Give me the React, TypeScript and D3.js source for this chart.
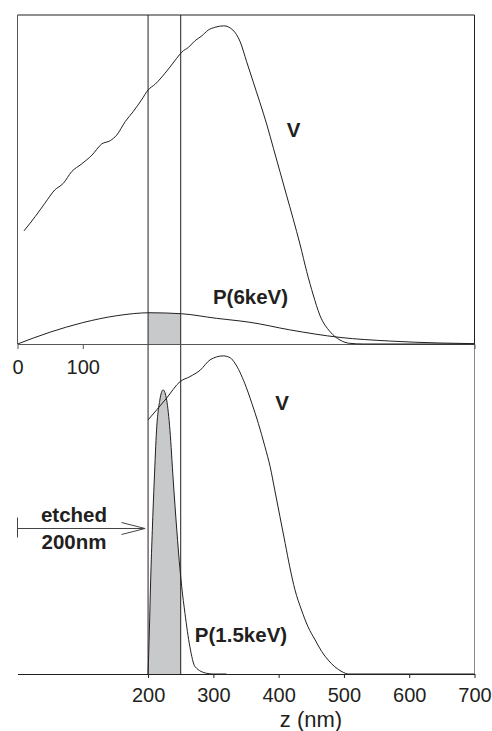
import React, { useEffect, useRef } from 'react';
import * as d3 from 'd3';

const WIDTH = 492;
const HEIGHT = 731;

// [z (nm), relative value]
const V_TOP: [number, number][] = [
  [10, 0.344], [27, 0.387], [42, 0.428], [57, 0.468], [70, 0.488], [83, 0.524], [98, 0.547],
  [114, 0.574], [129, 0.608], [142, 0.618], [152, 0.635], [165, 0.676], [177, 0.706],
  [190, 0.742], [200, 0.772], [211, 0.79], [226, 0.823], [241, 0.861], [252, 0.888],
  [262, 0.902], [272, 0.922], [282, 0.936], [292, 0.954], [303, 0.963], [316, 0.967],
  [330, 0.954], [341, 0.919], [351, 0.858], [361, 0.797], [371, 0.736], [382, 0.666],
  [392, 0.595], [402, 0.524], [412, 0.453], [422, 0.382], [433, 0.301], [443, 0.22],
  [453, 0.149], [463, 0.088], [479, 0.037], [494, 0.012], [509, 0.002], [530, 0], [700, 0]
];

const P_6KEV: [number, number][] = [
  [0, 0], [50, 0.036], [100, 0.065], [152, 0.086], [203, 0.095], [251, 0.092],
  [305, 0.078], [341, 0.07], [356, 0.066], [417, 0.043], [494, 0.02], [570, 0.009],
  [647, 0.003], [700, 0.001]
];

const V_BOTTOM: [number, number][] = [
  [200, 0.77], [228, 0.835], [249, 0.886], [264, 0.901], [280, 0.921], [295, 0.952],
  [315, 0.964], [326, 0.958], [333, 0.942], [348, 0.881], [359, 0.82], [369, 0.759],
  [379, 0.689], [387, 0.628], [394, 0.558], [402, 0.477], [410, 0.396], [417, 0.325],
  [425, 0.255], [435, 0.194], [445, 0.143], [456, 0.103], [466, 0.068], [476, 0.042],
  [486, 0.022], [497, 0.007], [507, 0], [700, 0]
];

const P_1_5KEV: [number, number][] = [
  [200, 0], [202, 0.133], [204, 0.285], [206.5, 0.436], [209.5, 0.588], [213, 0.739],
  [218, 0.83], [223, 0.861], [228.5, 0.83], [233.5, 0.739], [238.5, 0.588], [244, 0.436],
  [249, 0.315], [251.5, 0.265], [256.5, 0.184], [264, 0.083], [272, 0.022], [290, 0.002],
  [300, 0], [320, 0]
];

const TOP_TICKS = [0, 100];
const BOTTOM_TICKS = [200, 300, 400, 500, 600, 700];
const ETCH_RANGE: [number, number] = [200, 250];

const INK = '#231f20';
const FILL = '#c8c9cb';
const FONT = '"Liberation Sans", Arial, sans-serif';

const App: React.FC = () => {
  const svgRef = useRef<SVGSVGElement>(null);

  useEffect(() => {
    if (!svgRef.current) return;
    const svg = d3.select(svgRef.current);
    svg.selectAll('*').remove();

    // Scales
    const x = d3.scaleLinear().domain([0, 700]).range([17.5, 474.5]);
    const yTop = d3.scaleLinear().domain([0, 1]).range([344, 15]);
    const yBot = d3.scaleLinear().domain([0, 1]).range([674, 344]);

    // Clip for the shaded etched slice
    svg.append('defs')
      .append('clipPath')
      .attr('id', 'etch-clip')
      .append('rect')
      .attr('x', x(ETCH_RANGE[0]))
      .attr('y', 0)
      .attr('width', x(ETCH_RANGE[1]) - x(ETCH_RANGE[0]))
      .attr('height', HEIGHT);

    const curve = d3.curveMonotoneX;
    const lineTop = d3.line<[number, number]>()
      .x(d => x(d[0])).y(d => yTop(d[1])).curve(curve);
    const lineBot = d3.line<[number, number]>()
      .x(d => x(d[0])).y(d => yBot(d[1])).curve(curve);
    const areaTop = d3.area<[number, number]>()
      .x(d => x(d[0])).y0(yTop(0)).y1(d => yTop(d[1])).curve(curve);
    const areaBot = d3.area<[number, number]>()
      .x(d => x(d[0])).y0(yBot(0)).y1(d => yBot(d[1])).curve(curve);

    // Shaded fills
    svg.append('path')
      .datum(P_6KEV)
      .attr('d', areaTop)
      .attr('fill', FILL)
      .attr('clip-path', 'url(#etch-clip)');
    svg.append('path')
      .datum(P_1_5KEV)
      .attr('d', areaBot)
      .attr('fill', FILL)
      .attr('clip-path', 'url(#etch-clip)');

    // Frames
    const seg = (x1: number, y1: number, x2: number, y2: number, color = INK) =>
      svg.append('line')
        .attr('x1', x1).attr('y1', y1).attr('x2', x2).attr('y2', y2)
        .attr('stroke', color).attr('stroke-width', 1);

    seg(x(0), yTop(1), x(700), yTop(1));
    seg(x(0), yTop(1), x(0), yTop(0), '#555');
    seg(x(700), yTop(1), x(700), yTop(0));
    seg(x(700), yBot(1), x(700), yBot(0), '#8a8a8a');
    ETCH_RANGE.forEach(z => seg(x(z), yTop(1), x(z), yBot(0)));

    // Top axis
    const topAxis = svg.append('g')
      .attr('transform', `translate(0,${yTop(0)})`)
      .call(d3.axisBottom(x).tickValues(TOP_TICKS).tickSize(5).tickFormat(d3.format('d')));
    topAxis.select('.domain').attr('stroke', '#555');
    topAxis.selectAll('.tick line').attr('stroke', '#555');
    topAxis.selectAll('.tick').filter(d => d === 0).select('line').remove();
    topAxis.selectAll('.tick text')
      .attr('dy', null).attr('y', 29.5)
      .attr('fill', INK).attr('font-size', 20).attr('font-family', FONT);

    // Bottom axis
    const botAxis = svg.append('g')
      .attr('transform', `translate(0,${yBot(0)})`)
      .call(d3.axisBottom(x).tickValues(BOTTOM_TICKS).tickSize(4).tickSizeOuter(0).tickFormat(d3.format('d')));
    botAxis.select('.domain').attr('stroke', INK);
    botAxis.selectAll('.tick line').attr('stroke', INK);
    botAxis.selectAll('.tick text')
      .attr('dy', null).attr('y', 28)
      .attr('fill', INK).attr('font-size', 20).attr('font-family', FONT);

    // Curves
    [[V_TOP, lineTop], [P_6KEV, lineTop], [V_BOTTOM, lineBot], [P_1_5KEV, lineBot]].forEach(([data, gen]) => {
      svg.append('path')
        .datum(data as [number, number][])
        .attr('d', gen as any)
        .attr('fill', 'none')
        .attr('stroke', INK)
        .attr('stroke-width', 1);
    });

    // Labels
    const label = (tx: number, ty: number, text: string, size = 20.5, bold = true) =>
      svg.append('text')
        .attr('x', tx).attr('y', ty)
        .attr('text-anchor', 'middle')
        .attr('font-family', FONT)
        .attr('font-size', size)
        .attr('font-weight', bold ? 'bold' : 'normal')
        .attr('fill', INK)
        .text(text);

    label(293.5, 137, 'V');
    label(250.5, 304, 'P(6keV)');
    label(282, 410, 'V');
    label(241, 641.5, 'P(1.5keV)');
    label(74, 521.5, 'etched');
    label(74, 549, '200nm');
    label(311, 727, 'z (nm)', 22, false);

    // Etched-depth arrow
    const arrowY = 528.5;
    seg(17.5, arrowY, x(200) - 3, arrowY, '#444');
    seg(17.5, arrowY - 11, 17.5, arrowY + 9, '#444');
    svg.append('path')
      .attr('d', `M121.5,${arrowY - 6}L${x(200) - 3},${arrowY}L121.5,${arrowY + 6}`)
      .attr('fill', 'none')
      .attr('stroke', '#444')
      .attr('stroke-width', 1);
  }, []);

  return (
    <svg
      ref={svgRef}
      width={WIDTH}
      height={HEIGHT}
      style={{ position: 'absolute', left: 0, top: 0, background: '#fff' }}
    />
  );
};

export default App;
